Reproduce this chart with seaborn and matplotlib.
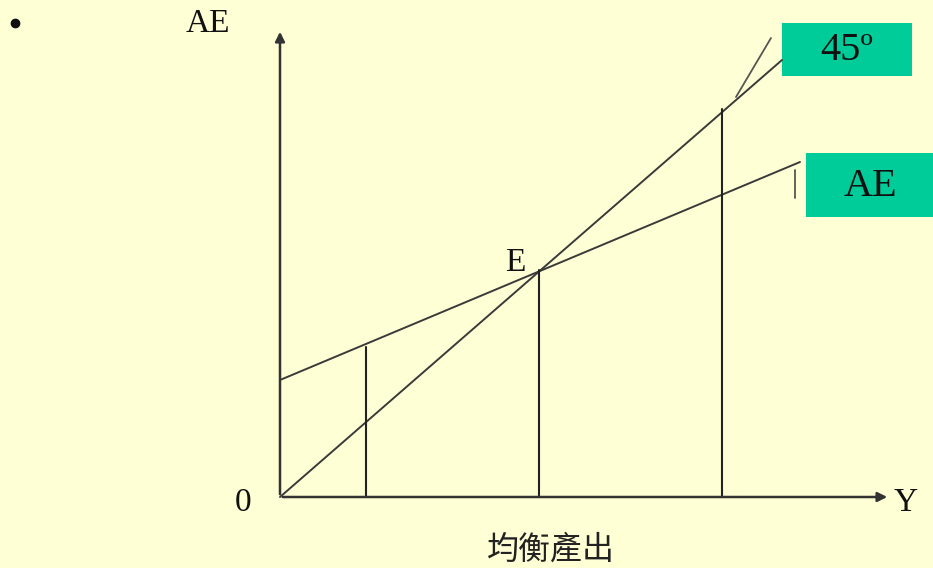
import matplotlib
matplotlib.use("Agg")
import matplotlib.pyplot as plt
import seaborn as sns
import pandas as pd
import numpy as np
from matplotlib.patches import Rectangle

sns.set_theme(style="white")
plt.rcParams['font.family'] = ['Liberation Serif', 'DejaVu Serif']

# Data (in pixel-like units measured from the origin)
origin_px = (280, 497)
y_line45_x = [0, 502]
y_line45_y = [0, 437]
ae_x = [0, 520]
ae_y = [117, 335]
vline_x = [86, 259, 442]
vline_top = [150, 227, 388]
axis_x_len = 610
axis_y_len = 468

bg = "#FFFFD5"
lc = "#3a3a3a"
green = "#00CC99"

fig = plt.figure(figsize=(9.33, 5.68), dpi=100, facecolor=bg)
ax = fig.add_axes([0, 0, 1, 1])
ax.set_facecolor(bg)
ox, oy = origin_px
ax.set_xlim(-ox, 933 - ox)
ax.set_ylim(oy - 568, oy)
ax.axis("off")

df45 = pd.DataFrame({"x": y_line45_x, "y": y_line45_y})
dfae = pd.DataFrame({"x": ae_x, "y": ae_y})
sns.lineplot(data=df45, x="x", y="y", ax=ax, color=lc, lw=1.4, estimator=None)
sns.lineplot(data=dfae, x="x", y="y", ax=ax, color=lc, lw=1.4, estimator=None)

for vx, vt in zip(vline_x, vline_top):
    ax.plot([vx, vx], [0, vt], color="#222222", lw=1.5)

# axes with arrows
ax.annotate("", xy=(0, axis_y_len), xytext=(0, 0),
            arrowprops=dict(arrowstyle="-|>", color="#333333", lw=1.8, mutation_scale=14))
ax.annotate("", xy=(axis_x_len, 0), xytext=(0, 0),
            arrowprops=dict(arrowstyle="-|>", color="#333333", lw=1.8, mutation_scale=14))

# leader strokes
ax.plot([736 - ox, 771 - ox], [oy - 97, oy - 38], color="#555555", lw=1.3)
ax.plot([795 - ox, 795 - ox], [oy - 170, oy - 198], color="#555555", lw=1.3)

fs = 24
ax.text(208 - ox, oy - 24, "AE", fontsize=fs, ha="center", va="center", color="#111111")
ax.text(243 - ox, oy - 503, "0", fontsize=fs, ha="center", va="center", color="#111111")
ax.text(906 - ox, oy - 503, "Y", fontsize=fs, ha="center", va="center", color="#111111")
ax.text(515 - ox, oy - 263, "E", fontsize=fs, ha="center", va="center", color="#111111")
ax.plot([15 - ox], [oy - 23], marker="o", markersize=6, color="#111111")
ax.text(551 - ox, oy - 550, "均衡產出", fontsize=23, ha="center", va="center",
        color="#222222", family=["Noto Sans CJK TC", "DejaVu Sans"])

# green boxes
ax.add_patch(Rectangle((782 - ox, oy - 76), 130, 53, facecolor=green, edgecolor="none"))
ax.add_patch(Rectangle((806 - ox, oy - 217), 140, 64, facecolor=green, edgecolor="none"))
ax.text(847 - ox, oy - 50, "45º", fontsize=29, ha="center", va="center", color="#111111")
ax.text(870 - ox, oy - 186, "AE", fontsize=29, ha="center", va="center", color="#111111")

fig.savefig("out.png", dpi=100, facecolor=bg)
